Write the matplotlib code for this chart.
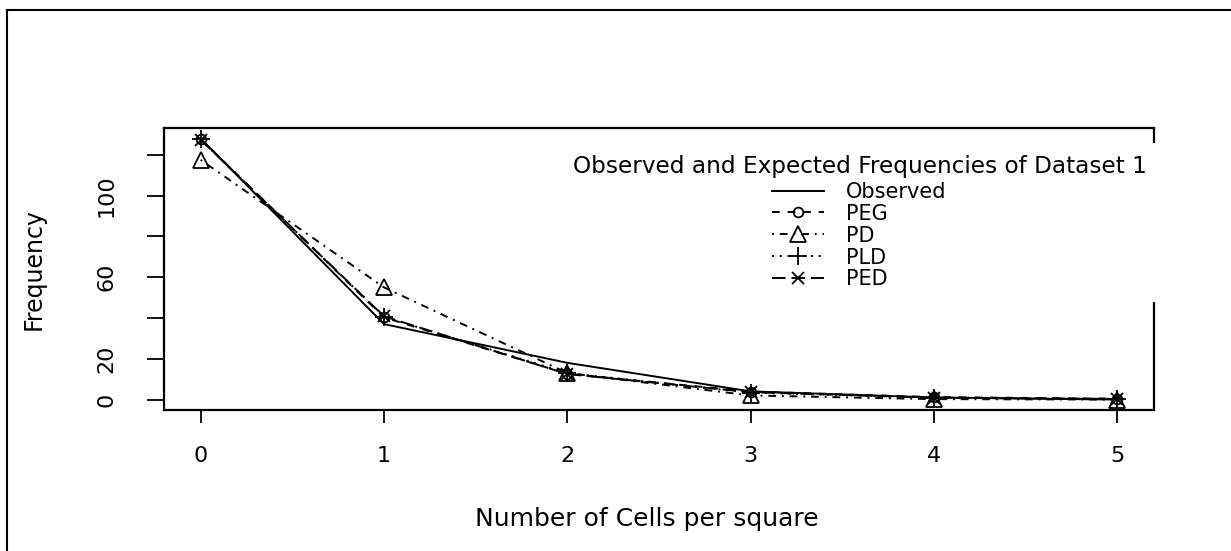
import matplotlib
matplotlib.use("Agg")
import matplotlib.pyplot as plt
from matplotlib.lines import Line2D

# ---- data ----
x_vals = [0, 1, 2, 3, 4, 5]
observed = [128, 37, 18, 4, 1, 0]
peg = [127.7, 40.3, 12.6, 3.9, 1.2, 0.4]
pd_vals = [117.5, 55.0, 13.0, 2.0, 0.2, 0.0]
pld = [127.5, 40.6, 13.0, 3.4, 1.0, 0.3]
ped = [127.4, 40.8, 12.5, 3.6, 0.9, 0.3]
series_labels = ["Observed", "PEG", "PD", "PLD", "PED"]
y_ticks = [0, 20, 40, 60, 80, 100, 120]
y_ticklabels = ["0", "20", "", "60", "", "100", ""]
legend_title = "Observed and Expected Frequencies of Dataset 1"
x_label = "Number of Cells per square"
y_label = "Frequency"

plt.rcParams['font.family'] = ['DejaVu Sans']

fig = plt.figure(figsize=(12.31, 5.51), dpi=100)
ax = fig.add_axes([0.1332, 0.2559, 0.8042, 0.5118])

lw = 1.4
mew = 1.3
ax.plot(x_vals, observed, color='black', lw=lw, linestyle='-', label=series_labels[0])
ax.plot(x_vals, peg, color='black', lw=lw, linestyle=(0, (4, 4)), marker='o',
        mfc='none', mec='black', ms=7, mew=mew, label=series_labels[1])
ax.plot(x_vals, pd_vals, color='black', lw=lw, linestyle=(0, (1, 3, 4, 3)), marker='^',
        mfc='none', mec='black', ms=11, mew=mew, label=series_labels[2])
ax.plot(x_vals, pld, color='black', lw=lw, linestyle=(0, (1, 3)), marker='+',
        ms=13, mew=mew, mec='black', label=series_labels[3])
ax.plot(x_vals, ped, color='black', lw=lw, linestyle=(0, (7, 3)), marker='x',
        ms=9, mew=mew, mec='black', label=series_labels[4])

ax.set_xlim(-0.2, 5.2)
ax.set_ylim(-5.12, 133.12)
ax.set_xticks(x_vals)
ax.set_xticklabels([str(v) for v in x_vals], fontsize=16)
ax.set_yticks(y_ticks)
ax.set_yticklabels(y_ticklabels, fontsize=16, rotation=90, va='center')

ax.tick_params(axis='x', length=9, width=1.3, pad=17, direction='out')
ax.tick_params(axis='y', length=12, width=1.3, pad=22, direction='out')

for sp in ax.spines.values():
    sp.set_linewidth(1.6)
    sp.set_color('black')

ax.set_xlabel(x_label, fontsize=18)
ax.xaxis.set_label_coords(0.488, -0.345)
ax.set_ylabel(y_label, fontsize=17)
ax.yaxis.set_label_coords(-0.120, 0.5)

leg = ax.legend(loc='upper right', bbox_to_anchor=(1.005, 0.947), frameon=True,
                fancybox=False, edgecolor='white', facecolor='white', framealpha=1.0,
                title=legend_title, title_fontsize=16.7, fontsize=15,
                handlelength=2.5, handletextpad=1.05, labelspacing=0.09,
                borderpad=0.6, borderaxespad=0.0)
leg.get_frame().set_linewidth(0)
leg.set_zorder(5)
leg._legend_box.sep = 2.5

# figure border lines (top and left)
fig.add_artist(Line2D([7 / 1231, 1.0], [1 - 10 / 551, 1 - 10 / 551],
                      transform=fig.transFigure, color='black', lw=1.5))
fig.add_artist(Line2D([7 / 1231, 7 / 1231], [0.0, 1 - 10 / 551],
                      transform=fig.transFigure, color='black', lw=1.5))

fig.savefig("out.png", dpi=100, facecolor='white')
